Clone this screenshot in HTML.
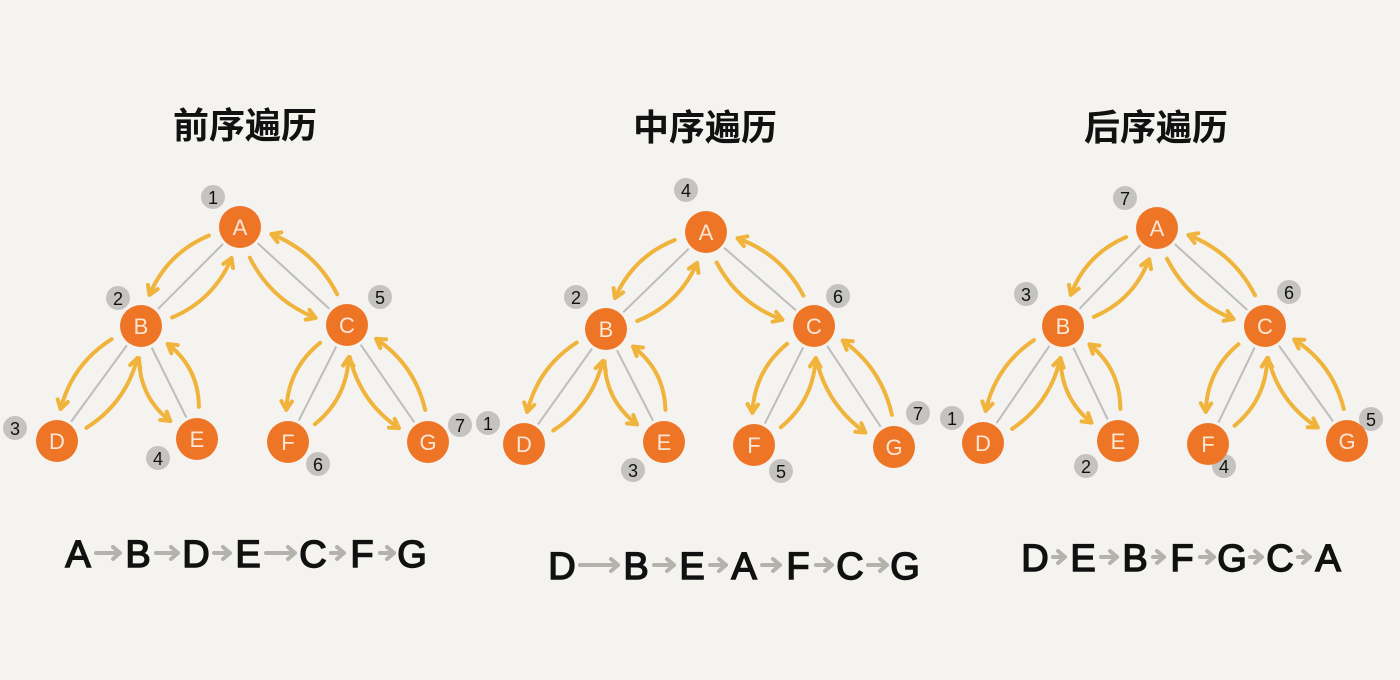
<!DOCTYPE html>
<html><head><meta charset="utf-8">
<style>
html,body{margin:0;padding:0;background:#f4f3ef;}
svg{display:block}
</style></head>
<body>
<svg id="s" width="1400" height="680" viewBox="0 0 1400 680" xmlns="http://www.w3.org/2000/svg">
<rect width="1400" height="680" fill="#f4f3ef"/>
<g font-family="'Liberation Sans','Noto Sans CJK SC',sans-serif" font-weight="bold" fill="#111" font-size="36" text-anchor="middle">
<text x="245" y="138">前序遍历</text>
<text x="705" y="140">中序遍历</text>
<text x="1156" y="140">后序遍历</text>
</g>
<g id="g"></g>
</svg>
<script>
var NS="http://www.w3.org/2000/svg",G=document.getElementById('g');
function el(t,a,txt){var e=document.createElementNS(NS,t);for(var k in a)e.setAttribute(k,a[k]);if(txt!=null)e.textContent=txt;G.appendChild(e);return e;}
var trees=[
 {A:[240,227],B:[141,326],C:[347,325],D:[57,441],E:[197,439],F:[288,442],G:[428,442],
  bd:[[213,197,'1'],[118,298,'2'],[380,297,'5'],[15,428,'3'],[158,458,'4'],[318,464,'6'],[460,425,'7']]},
 {A:[706,232],B:[606,329],C:[814,326],D:[524,444],E:[664,442],F:[754,445],G:[894,447],
  bd:[[686,190,'4'],[576,297,'2'],[838,296,'6'],[488,423,'1'],[633,470,'3'],[781,471,'5'],[918,413,'7']]},
 {A:[1157,228],B:[1063,326],C:[1265,326],D:[983,443],E:[1118,441],F:[1208,444],G:[1347,441],
  bd:[[1125,198,'7'],[1026,294,'3'],[1289,292,'6'],[952,418,'1'],[1086,466,'2'],[1224,466,'4'],[1371,419,'5']]}
];
var edges=[['A','B'],['A','C'],['B','D'],['B','E'],['C','F'],['C','G']];
var Y="#f0b43c";
function curve(p,q,n,off,bul){
 var x1=p[0]+n[0]*off,y1=p[1]+n[1]*off,x2=q[0]+n[0]*off,y2=q[1]+n[1]*off;
 var mx=(x1+x2)/2+n[0]*bul,my=(y1+y2)/2+n[1]*bul;
 el('path',{d:'M'+x1+' '+y1+' Q'+mx+' '+my+' '+x2+' '+y2,fill:'none',stroke:Y,'stroke-width':4,'stroke-linecap':'round'});
 var dx=x2-mx,dy=y2-my,L=Math.hypot(dx,dy);dx/=L;dy/=L;
 var a=10,c=Math.cos(0.55),s=Math.sin(0.55);
 var h1=[x2-a*(dx*c-dy*s),y2-a*(dy*c+dx*s)],h2=[x2-a*(dx*c+dy*s),y2-a*(dy*c-dx*s)];
 el('path',{d:'M'+h1[0]+' '+h1[1]+' L'+x2+' '+y2+' L'+h2[0]+' '+h2[1],fill:'none',stroke:Y,'stroke-width':4,'stroke-linecap':'round','stroke-linejoin':'round'});
}
trees.forEach(function(t){
 edges.forEach(function(e){
  var P=t[e[0]],Q=t[e[1]],dx=Q[0]-P[0],dy=Q[1]-P[1],L=Math.hypot(dx,dy);dx/=L;dy/=L;
  var n=[-dy,dx];
  el('line',{x1:P[0]+dx*24,y1:P[1]+dy*24,x2:Q[0]-dx*24,y2:Q[1]-dy*24,stroke:'#bdbdbd','stroke-width':2});
  var p1=[P[0]+dx*28,P[1]+dy*28],q1=[Q[0]-dx*28,Q[1]-dy*28];
  curve(p1,q1,n,16,17);
  curve(q1,p1,n,-16,-17);
 });
 t.bd.forEach(function(b){
  el('circle',{cx:b[0],cy:b[1],r:12,fill:'#c4c3bf'});
  el('text',{x:b[0],y:b[1]+7,'font-family':'Liberation Sans,sans-serif','font-size':18,'text-anchor':'middle',fill:'#111'},b[2]);
 });
 'ABCDEFG'.split('').forEach(function(k){
  var p=t[k];
  el('circle',{cx:p[0],cy:p[1],r:21,fill:'#ee7526'});
  el('text',{x:p[0],y:p[1]+8,'font-family':'Liberation Sans,sans-serif','font-size':22,'text-anchor':'middle',fill:'#fbe6d6'},k);
 });
});
var seqs=[
 {y:553,L:['A','B','D','E','C','F','G'],x:[78,138,196,248,313,362,412]},
 {y:565,L:['D','B','E','A','F','C','G'],x:[562,636,692,744,798,850,905]},
 {y:557,L:['D','E','B','F','G','C','A'],x:[1035,1083,1135,1182,1232,1280,1328]}
];
seqs.forEach(function(s){
 s.L.forEach(function(c,i){
  el('text',{x:s.x[i],y:s.y+14,'font-family':'Liberation Sans,sans-serif','font-size':38,'text-anchor':'middle',fill:'#111',stroke:'#111','stroke-width':1.5},c);
  if(i<6){var a=s.x[i]+18,b=s.x[i+1]-18,m=s.y;
   el('path',{d:'M'+a+' '+m+' L'+b+' '+m+' M'+(b-7)+' '+(m-6)+' L'+b+' '+m+' L'+(b-7)+' '+(m+6),fill:'none',stroke:'#b4b2ad','stroke-width':4,'stroke-linecap':'round','stroke-linejoin':'round'});}
 });
});
</script>
</body></html>
